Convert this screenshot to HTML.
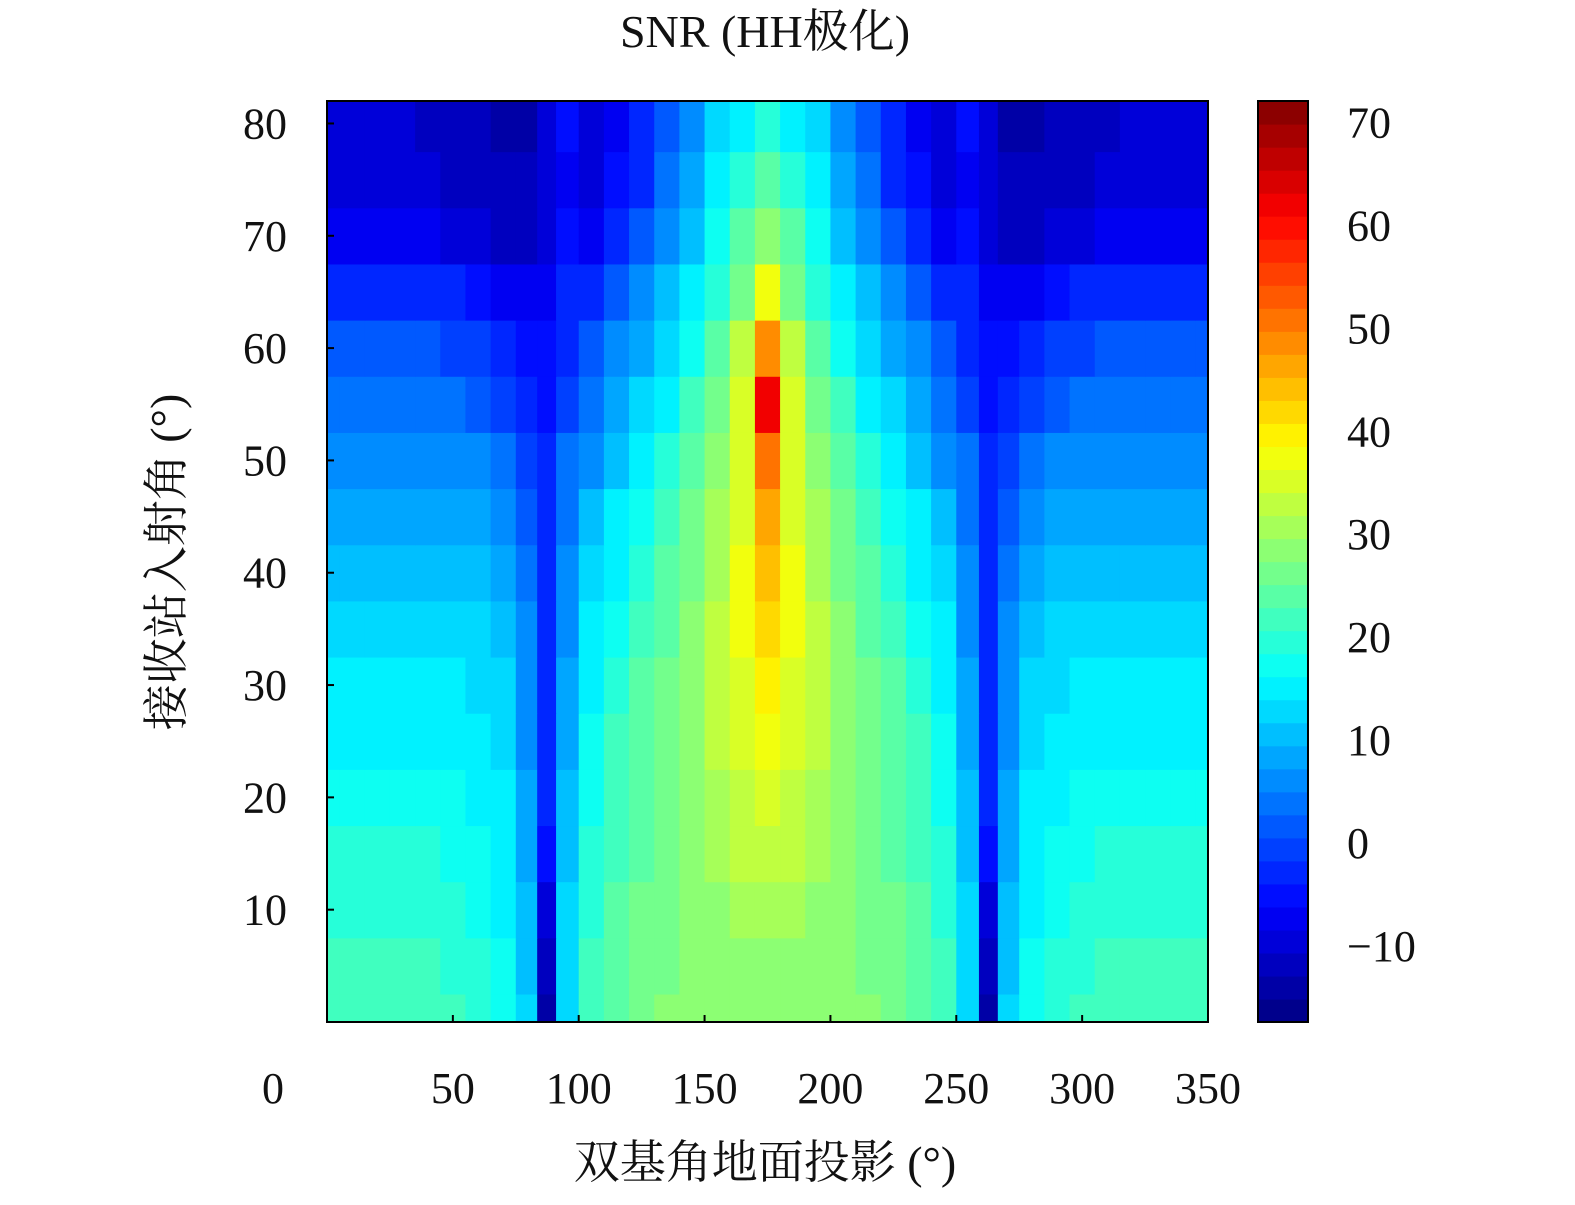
<!DOCTYPE html>
<html><head><meta charset="utf-8"><style>
html,body{margin:0;padding:0;background:#fff;}
svg text{font-family:"Liberation Serif","Noto Serif CJK SC",serif;fill:#111;}
</style></head><body>
<svg id="chart" width="1575" height="1200" viewBox="0 0 1575 1200" xmlns="http://www.w3.org/2000/svg">
<text x="765" y="47" font-size="46" text-anchor="middle">SNR (HH极化)</text>
<g id="cells"></g>
<rect x="327" y="101" width="881" height="921" fill="none" stroke="#000" stroke-width="2"/>
<g id="axes"></g>
<g id="cbar"></g>
<text x="765" y="1178" font-size="46" text-anchor="middle">双基角地面投影 (°)</text>
<text x="0" y="0" font-size="46" text-anchor="middle" transform="translate(182,562) rotate(-90)">接收站入射角 (°)</text>
</svg>
<script>
const xCats=[0,10,20,30,40,50,60,70,80,87,95,105,115,125,135,145,155,165,175,185,195,205,215,225,235,245,255,263,270,280,290,300,310,320,330,340,350];
const yCats=[0,5,10,15,20,25,30,35,40,45,50,55,60,65,70,75,80];
const row00=[22,22,22,22,21,21,20,18,12,-14,12,22,25,27,28,28,28,28,28,28,28,28,28,27,25,22,12,-14,12,18,20,21,21,22,22,22,22];
const row05=[21,21,21,21,21,20,19,17,11,-12,12,21,24,26,27,28,28,28,29,28,28,28,27,26,24,21,12,-12,11,17,19,20,21,21,21,21,21];
const row10=[20,20,20,20,20,19,18,16,10,-10,12,20,23,26,27,28,29,30,31,30,29,28,27,26,23,20,12,-10,10,16,18,19,20,20,20,20,20];
const row15=[19,19,19,19,19,18,17,15,9,-6,11,19,22,25,27,29,30,32,33,32,30,29,27,25,22,19,11,-6,9,15,17,18,19,19,19,19,19];
const row20=[17,17,17,17,17,17,16,14,8,-4,10,18,22,25,27,29,31,33,35,33,31,29,27,25,22,18,10,-4,8,14,16,17,17,17,17,17,17];
const row25=[16,16,16,16,16,15,15,13,7,-3,9,17,21,24,27,29,32,35,37,35,32,29,27,24,21,17,9,-3,7,13,15,15,16,16,16,16,16];
const row30=[14,14,14,14,14,14,13,12,6,-2,8,16,20,23,26,29,32,36,39,36,32,29,26,23,20,16,8,-2,6,12,13,14,14,14,14,14,14];
const row35=[13,13,13,13,13,12,12,10,5,-2,7,14,18,22,25,28,32,37,41,37,32,28,25,22,18,14,7,-2,5,10,12,12,13,13,13,13,13];
const row40=[11,11,11,11,11,11,10,8,4,-2,6,12,16,20,24,27,31,37,43,37,31,27,24,20,16,12,6,-2,4,8,10,11,11,11,11,11,11];
const row45=[9,9,9,9,9,9,8,6,2,-3,4,10,14,18,22,26,30,36,46,36,30,26,22,18,14,10,4,-3,2,6,8,9,9,9,9,9,9];
const row50=[7,7,7,7,7,6,5,3,0,-4,3,7,11,15,19,23,28,35,50,35,28,23,19,15,11,7,3,-4,0,3,5,6,7,7,7,7,7];
const row55=[4,4,4,4,4,3,2,0,-3,-5,0,4,8,12,16,21,26,34,62,34,26,21,16,12,8,4,0,-5,-3,0,2,3,4,4,4,4,4];
const row60=[1,1,1,1,1,0,-1,-3,-5,-6,-2,1,5,9,13,18,24,32,48,32,24,18,13,9,5,1,-2,-6,-5,-3,-1,0,1,1,1,1,1];
const row65=[-3,-3,-3,-3,-3,-4,-5,-7,-8,-7,-4,-3,1,5,10,15,20,27,38,27,20,15,10,5,1,-3,-4,-7,-8,-7,-5,-4,-3,-3,-3,-3,-3];
const row70=[-7,-7,-7,-7,-8,-9,-10,-11,-11,-9,-6,-7,-4,1,6,11,17,23,29,23,17,11,6,1,-4,-7,-6,-9,-11,-11,-10,-9,-8,-7,-7,-7,-7];
const row75=[-9,-9,-9,-9,-10,-11,-12,-13,-13,-10,-7,-9,-6,-2,3,8,14,19,24,19,14,8,3,-2,-6,-9,-7,-10,-13,-13,-12,-11,-10,-9,-9,-9,-9];
const row80=[-10,-10,-10,-10,-11,-12,-13,-14,-14,-10,-6,-10,-7,-3,1,6,12,16,19,16,12,6,1,-3,-7,-10,-6,-10,-14,-14,-13,-12,-11,-10,-10,-10,-10];
const zRows=[row00,row05,row10,row15,row20,row25,row30,row35,row40,row45,row50,row55,row60,row65,row70,row75,row80];
const xTicks=[50,100,150,200,250,300,350];
const yTicks=[10,20,30,40,50,60,70,80];
const cbTicks=[70,60,50,40,30,20,10,0,-10];
const cmin=-17.5, cmax=72, nLevels=40;

const NS="http://www.w3.org/2000/svg";
const X0=327,X1=1208,Y0=1022,Y1=101;
const xMin=0,xMax=350,yMin=0,yMax=82;
const sx=v=>X0+(v-xMin)/(xMax-xMin)*(X1-X0);
const sy=v=>Y0-(v-yMin)/(yMax-yMin)*(Y0-Y1);
function jet(t){t=Math.max(0,Math.min(1,t));
 const r=Math.max(0,Math.min(1,Math.min(4*t-1.5,-4*t+4.5)));
 const g=Math.max(0,Math.min(1,Math.min(4*t-0.5,-4*t+3.5)));
 const b=Math.max(0,Math.min(1,Math.min(4*t+0.5,-4*t+2.5)));
 return `rgb(${Math.round(r*255)},${Math.round(g*255)},${Math.round(b*255)})`;}
function colorOf(v){let t=(v-cmin)/(cmax-cmin);t=Math.floor(t*nLevels)/nLevels+0.5/nLevels;return jet(t);}
function mk(tag,attrs,parent){const e=document.createElementNS(NS,tag);for(const k in attrs)e.setAttribute(k,attrs[k]);parent.appendChild(e);return e;}
function edges(arr,lo,hi){const e=[lo];for(let i=0;i<arr.length-1;i++)e.push((arr[i]+arr[i+1])/2);e.push(hi);return e;}
const xe=edges(xCats,xMin,xMax), ye=edges(yCats,yMin,yMax);
const cells=document.getElementById('cells');
for(let j=0;j<yCats.length;j++){for(let i=0;i<xCats.length;i++){
 const x=sx(xe[i]),w=sx(xe[i+1])-x,y=sy(ye[j+1]),h=sy(ye[j])-y;
 const r=mk('rect',{x:x,y:y,width:w+0.6,height:h+0.6,fill:colorOf(zRows[j][i])},cells);
 
 
}}
const axes=document.getElementById('axes');
const zl=mk('text',{x:273,y:1103,'font-size':44,'text-anchor':'middle'},axes);zl.textContent='0';


xTicks.forEach(v=>{
 if(v<xMax){const l=mk('line',{x1:sx(v),x2:sx(v),y1:Y0,y2:Y0-7,stroke:'#000','stroke-width':2},axes);
 
 }
 const t=mk('text',{x:sx(v),y:1103,'font-size':44,'text-anchor':'middle'},axes);t.textContent=v;
 
 
});
yTicks.forEach(v=>{
 const l=mk('line',{x1:X0,x2:X0+7,y1:sy(v),y2:sy(v),stroke:'#000','stroke-width':2},axes);
 
 
 const t=mk('text',{x:287,y:sy(v)+15,'font-size':44,'text-anchor':'end'},axes);t.textContent=v;
 
 
});
const cb=document.getElementById('cbar');
const CX=1258,CW=50,CT=101,CB=1022;
const cy=v=>CB-(v-cmin)/(cmax-cmin)*(CB-CT);
for(let k=0;k<nLevels;k++){
 const v0=cmin+k*(cmax-cmin)/nLevels,v1=cmin+(k+1)*(cmax-cmin)/nLevels;
 const r=mk('rect',{x:CX,y:cy(v1),width:CW,height:cy(v0)-cy(v1)+0.6,fill:jet((k+0.5)/nLevels)},cb);
 
 
}
mk('rect',{x:CX,y:CT,width:CW,height:CB-CT,fill:'none',stroke:'#000','stroke-width':2},cb);
cbTicks.forEach(v=>{
 const t=mk('text',{x:1347,y:cy(v)+16,'font-size':44},cb);t.textContent=v<0?'\u2212'+(-v):v;
 
 
});
</script>
</body></html>
